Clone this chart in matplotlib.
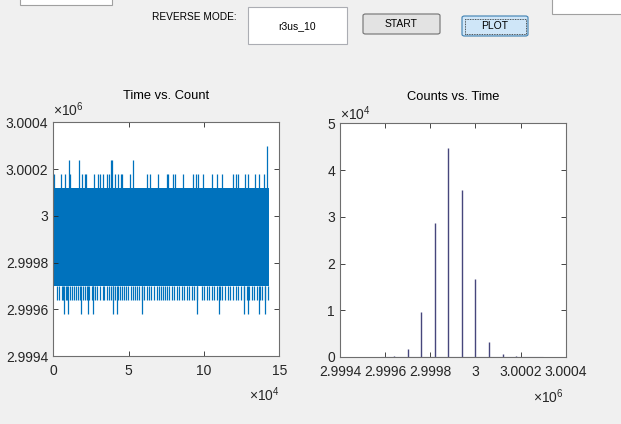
import numpy as np
import matplotlib
matplotlib.use('Agg')
import matplotlib.pyplot as plt
from matplotlib.patches import Rectangle, FancyBboxPatch
from matplotlib.ticker import FuncFormatter, MultipleLocator

#*********************************** DATA **************************************
# time trace (left): bulk band + the outlier spikes
n_points = 142900
band_low = 2999700.0
band_high = 3000120.0

# x positions of spikes, in units of 1e4 samples
up_018 = [0.02, 0.49, 0.78, 1.11, 1.88, 2.10, 2.17, 2.72, 2.95, 3.10, 3.32, 3.54,
          3.72, 4.09, 4.31, 4.47, 4.58, 5.09, 6.24, 6.42, 6.97, 7.52, 7.63, 7.96,
          8.08, 8.63, 9.29, 9.45, 9.62, 9.95, 10.51, 10.84, 11.17, 11.94, 12.10,
          12.28, 12.72, 12.94, 13.38, 13.65, 14.00]
up_024 = [1.04, 1.73, 3.83, 3.92, 5.31]
up_030 = [14.16]
down_964 = [0.27, 0.40, 0.55, 0.66, 0.84, 0.93, 1.11, 1.24, 1.37, 1.51, 1.66, 1.77,
            1.95, 2.08, 2.21, 2.39, 2.55, 2.66, 2.79, 2.92, 3.10, 3.28, 3.39, 3.54,
            3.68, 3.81, 3.94, 4.09, 4.27, 4.43, 4.58, 4.69, 4.82, 4.98, 5.14, 5.27,
            5.42, 5.57, 5.71, 5.89, 6.02, 6.20, 6.35, 6.50, 6.68, 6.86, 6.99, 7.13,
            7.30, 7.43, 7.56, 7.68, 7.86, 8.03, 8.19, 8.34, 8.52, 8.69, 8.85, 9.00,
            9.18, 9.35, 9.53, 9.85, 10.02, 10.18, 10.33, 10.51, 10.68, 10.84, 11.06,
            11.21, 11.39, 11.57, 11.72, 11.94, 12.10, 12.28, 12.45, 12.63, 12.83,
            12.98, 13.16, 13.34, 13.49, 13.71, 13.87, 14.05, 14.23]
down_958 = [0.71, 1.00, 1.82, 2.32, 2.61, 3.98, 4.21, 5.87, 9.52, 11.00, 12.67,
            12.90, 13.65, 14.05]
spike_levels = {'up_018': 3000180.0, 'up_024': 3000240.0, 'up_030': 3000300.0,
                'down_964': 2999640.0, 'down_958': 2999580.0}

# histogram (right)
hist_centers = [2999640, 2999700, 2999760, 2999820, 2999880, 2999940,
                3000000, 3000060, 3000120, 3000180]
hist_counts = [300, 1640, 9700, 28700, 44800, 35800, 16760, 3200, 570, 150]

#*********************************** STYLE *************************************
W, H = 621, 424
BG = '#F0F0F0'
BLUE = '#0072BD'
BAR = '#46467c'
AXC = '#262626'

plt.rcParams['font.family'] = ['Liberation Sans', 'DejaVu Sans']
plt.rcParams['mathtext.fontset'] = 'custom'
plt.rcParams['mathtext.rm'] = 'Liberation Sans'
plt.rcParams['mathtext.it'] = 'Liberation Sans'


def fr(x, y):
    # screenshot pixel (top-left origin) -> figure fraction
    return x / W, 1 - y / H


def ax_rect(l, t, r, b):
    return [l / W, 1 - b / H, (r - l) / W, (b - t) / H]


def style_axes(ax):
    ax.set_facecolor('white')
    for s in ax.spines.values():
        s.set_color('#6e6e6e')
        s.set_linewidth(0.8)
    ax.tick_params(direction='in', length=3.5, width=0.6, colors=AXC,
                   labelsize=10, top=True, right=True)
    ax.tick_params(axis='x', pad=6)
    ax.tick_params(axis='y', pad=3.6)


def exp_fmt(scale):
    return FuncFormatter(lambda v, p: '%g' % round(v / scale, 4))


fig = plt.figure(figsize=(W / 100, H / 100), dpi=100, facecolor=BG)

#*********************************** LEFT **************************************
ax1 = fig.add_axes(ax_rect(53.3, 122.3, 279.3, 356))
ax1.fill_between([0, n_points], band_low, band_high, color=BLUE, lw=0)
ax1.vlines(np.array(up_018) * 1e4, band_high, spike_levels['up_018'], color=BLUE, lw=0.9)
ax1.vlines(np.array(up_024) * 1e4, band_high, spike_levels['up_024'], color=BLUE, lw=0.9)
ax1.vlines(np.array(up_030) * 1e4, band_high, spike_levels['up_030'], color=BLUE, lw=0.9)
ax1.vlines(np.array(down_964) * 1e4, spike_levels['down_964'], band_low, color=BLUE, lw=0.9)
ax1.vlines(np.array(down_958) * 1e4, spike_levels['down_958'], band_low, color=BLUE, lw=0.9)
ax1.set_xlim(0, 150000)
ax1.set_ylim(2999400, 3000400)
ax1.xaxis.set_major_locator(MultipleLocator(50000))
ax1.yaxis.set_major_locator(MultipleLocator(200))
ax1.xaxis.set_major_formatter(exp_fmt(1e4))
ax1.yaxis.set_major_formatter(exp_fmt(1e6))
style_axes(ax1)
ax1.set_title('Time vs. Count', fontsize=9.3, color='black', pad=16.5)
ax1.text(0.0, 1.012, r'$\times10^{6}$', transform=ax1.transAxes, fontsize=10,
         color=AXC, ha='left', va='bottom')
ax1.text(1.0, -0.125, r'$\times10^{4}$', transform=ax1.transAxes, fontsize=10,
         color=AXC, ha='right', va='top')

#*********************************** RIGHT *************************************
ax2 = fig.add_axes(ax_rect(340, 123.3, 565.7, 357))
ax2.hlines(0, min(spike_levels.values()), max(spike_levels.values()),
           color='#8a8ab8', lw=0.8)
ax2.vlines(hist_centers, 0, hist_counts, color=BAR, lw=1.0)
ax2.set_xlim(2999400, 3000400)
ax2.set_ylim(0, 50000)
ax2.xaxis.set_major_locator(MultipleLocator(200))
ax2.yaxis.set_major_locator(MultipleLocator(10000))
ax2.xaxis.set_major_formatter(exp_fmt(1e6))
ax2.yaxis.set_major_formatter(exp_fmt(1e4))
style_axes(ax2)
ax2.set_title('Counts vs. Time', fontsize=9.3, color='black', pad=17)
ax2.text(0.0, 1.0, r'$\times10^{4}$', transform=ax2.transAxes, fontsize=10,
         color=AXC, ha='left', va='bottom')
ax2.text(0.99, -0.13, r'$\times10^{6}$', transform=ax2.transAxes, fontsize=10,
         color=AXC, ha='right', va='top')

#*********************************** GUI BITS **********************************
def box(l, t, r, b, face, edge, lw=0.8, ls='-'):
    x0, y1 = fr(l, t)
    x1, y0 = fr(r, b)
    fig.add_artist(Rectangle((x0, y0), x1 - x0, y1 - y0, transform=fig.transFigure,
                             facecolor=face, edgecolor=edge, lw=lw, ls=ls))


def button(l, t, r, b, face, edge):
    x0, y1 = fr(l, t)
    x1, y0 = fr(r, b)
    fig.add_artist(FancyBboxPatch((x0, y0), x1 - x0, y1 - y0,
                                  boxstyle='round,pad=0,rounding_size=0.004',
                                  transform=fig.transFigure, facecolor=face,
                                  edgecolor=edge, lw=0.8))


box(20, -3, 112, 5, 'white', '#a0a0a0')
box(552, -3, 625, 14, 'white', '#a0a0a0')
box(248, 7, 347, 44, 'white', '#abadb3')

fig.text(*fr(152, 16.5), 'REVERSE MODE:', fontsize=7.3, color='black',
         ha='left', va='center')
fig.text(*fr(297.5, 26), 'r3us_10', fontsize=7.5, color='black',
         ha='center', va='center')

button(363, 14, 440, 34, '#e3e3e3', '#707070')
fig.text(*fr(401.5, 24), 'START', fontsize=7.5, color='black', ha='center', va='center')

button(462, 16, 528, 36, '#cfe6f8', '#3c7fb1')
box(464.5, 18.5, 525.5, 33.5, 'none', '#202020', lw=0.6, ls=(0, (1, 1)))
fig.text(*fr(495, 26), 'PLOT', fontsize=7.5, color='black', ha='center', va='center')

fig.savefig('out.png', dpi=100, facecolor=BG)
